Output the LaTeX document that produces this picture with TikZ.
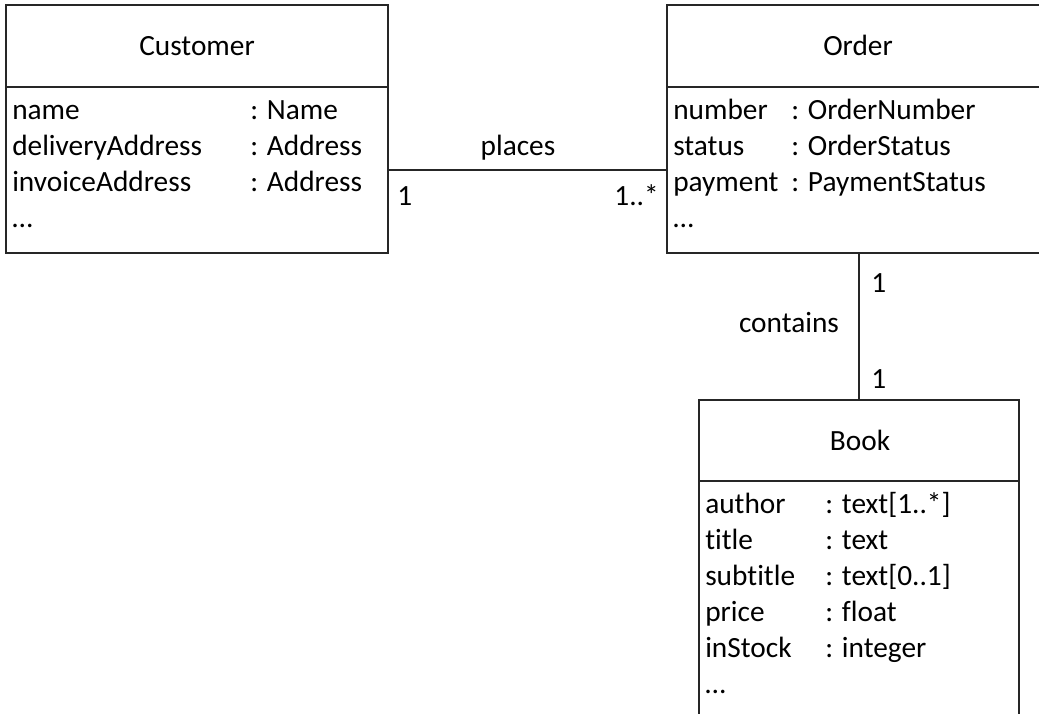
\documentclass[tikz,border=0pt]{standalone}
\usepackage{fontspec}
\setmainfont{Carlito}[Ligatures=NoCommon]
\usetikzlibrary{positioning}

\tikzset{
  umlline/.style={line width=1.4pt, draw=black!85},
  classbox/.style={umlline, rectangle, inner sep=0pt},
  attr/.style={anchor=base west, inner sep=0pt, font=\fontsize{22}{26}\selectfont},
  ctitle/.style={anchor=base, inner sep=0pt, font=\fontsize{22}{26}\selectfont},
  mult/.style={inner sep=0pt, font=\fontsize{22}{26}\selectfont}
}

\begin{document}
\begin{tikzpicture}[x=0.75pt, y=-0.75pt]
\clip (0,0) rectangle (1039,714);
%draw class boxes
\node[classbox, minimum width=286.5pt, minimum height=186pt] (customer) at (197,129) {};
\node[classbox, minimum width=283.5pt, minimum height=186pt] (order) at (856,129) {};
\node[classbox, minimum width=240pt, minimum height=240pt] (book) at (859,560) {};
%draw dividers
\draw[umlline] (customer.west |- 0,87) -- (customer.east |- 0,87);
\draw[umlline] (order.west |- 0,87) -- (order.east |- 0,87);
\draw[umlline] (book.west |- 0,481) -- (book.east |- 0,481);
%draw class names
\node[ctitle] (customer-name) at (197,55) {Customer};
\node[ctitle] (order-name) at (858,55) {Order};
\node[ctitle] (book-name) at (860,450) {Book};
% attributes
\foreach \attr/\type [count=\i] in {name/{: Name}, deliveryAddress/{: Address}, invoiceAddress/{: Address}, {…}/{}}{
   \node[attr] (customer-a\i) at (12,83+36*\i) {\attr};
   \node[attr] (customer-t\i) at (250,83+36*\i) {\type};
}
\foreach \attr/\type [count=\i] in {number/{: OrderNumber}, status/{: OrderStatus}, payment/{: PaymentStatus}, {…}/{}}{
   \node[attr] (order-a\i) at (673,83+36*\i) {\attr};
   \node[attr] (order-t\i) at (791,83+36*\i) {\type};
}
\foreach \attr/\type [count=\i] in {author/{: text[1..*]}, title/{: text}, subtitle/{: text[0..1]}, price/{: float}, inStock/{: integer}, {…}/{}}{
   \node[attr] (book-a\i) at (705,477+36*\i) {\attr};
   \node[attr] (book-t\i) at (825,477+36*\i) {\type};
}
% associations
\coordinate (customer-e) at (customer.east |- 0,170);
\coordinate (order-w) at (order.west |- 0,170);
\coordinate (order-s) at (order.south -| 859,0);
\coordinate (book-n) at (book.north);
\draw[umlline] (customer-e) -- (order-w);
\draw[umlline] (order-s) -- (book-n);
% association labels and multiplicities
\node[mult, anchor=base] (places) at (518,155) {places};
\node[mult, anchor=base west] (places-m1) at (397,205) {1};
\node[mult, anchor=base east] (places-m2) at (659,205) {1..*};
\node[mult, anchor=base] (contains) at (789,332) {contains};
\node[mult, anchor=base west] (contains-m1) at (871,292) {1};
\node[mult, anchor=base west] (contains-m2) at (871,388) {1};
\end{tikzpicture}
\end{document}
